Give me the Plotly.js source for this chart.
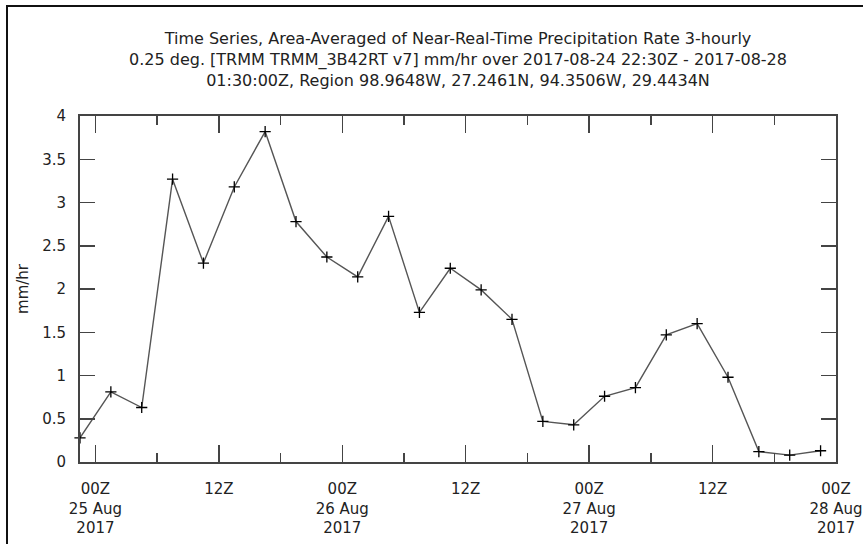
<!DOCTYPE html>
<html>
<head>
<meta charset="utf-8">
<script src="https://cdn.plot.ly/plotly-3.0.1.min.js"></script>
<style>
  html, body { margin: 0; padding: 0; background: #fff; }
  #chart { width: 863px; height: 544px; }
</style>
</head>
<body>
<div id="chart"></div>
<script>
// Time stamps (UTC) of the 3-hourly samples
const times = [
  "2017-08-24 22:30", "2017-08-25 01:30", "2017-08-25 04:30", "2017-08-25 07:30",
  "2017-08-25 10:30", "2017-08-25 13:30", "2017-08-25 16:30", "2017-08-25 19:30",
  "2017-08-25 22:30", "2017-08-26 01:30", "2017-08-26 04:30", "2017-08-26 07:30",
  "2017-08-26 10:30", "2017-08-26 13:30", "2017-08-26 16:30", "2017-08-26 19:30",
  "2017-08-26 22:30", "2017-08-27 01:30", "2017-08-27 04:30", "2017-08-27 07:30",
  "2017-08-27 10:30", "2017-08-27 13:30", "2017-08-27 16:30", "2017-08-27 19:30",
  "2017-08-27 22:30"
];
// Precipitation rate, mm/hr
const precip = [
  0.28, 0.81, 0.63, 3.27, 2.30, 3.18, 3.82, 2.78, 2.37, 2.14, 2.84, 1.73,
  2.24, 1.99, 1.65, 0.47, 0.43, 0.76, 0.86, 1.47, 1.60, 0.98, 0.12, 0.08, 0.13
];
// X tick positions and labels
const xTickVals = [
  "2017-08-25 00:00", "2017-08-25 12:00", "2017-08-26 00:00", "2017-08-26 12:00",
  "2017-08-27 00:00", "2017-08-27 12:00", "2017-08-28 00:00"
];
const xTickText = [
  "00Z<br>25 Aug<br>2017", "12Z", "00Z<br>26 Aug<br>2017", "12Z",
  "00Z<br>27 Aug<br>2017", "12Z", "00Z<br>28 Aug<br>2017"
];
const xMinorVals = [
  "2017-08-25 06:00", "2017-08-25 18:00", "2017-08-26 06:00", "2017-08-26 18:00",
  "2017-08-27 06:00", "2017-08-27 18:00"
];
const xRange = ["2017-08-24 22:30", "2017-08-28 00:00"];
const yRange = [0, 4];
const titleText = "Time Series, Area-Averaged of Near-Real-Time Precipitation Rate 3-hourly<br>" +
  "0.25 deg. [TRMM TRMM_3B42RT v7] mm/hr over 2017-08-24 22:30Z - 2017-08-28<br>" +
  "01:30:00Z, Region 98.9648W, 27.2461N, 94.3506W, 29.4434N";
const yTitle = "mm/hr";

const FONT = "DejaVu Sans, sans-serif";
const TXT = "#222";
const AX = "#444";

const trace = {
  x: times,
  y: precip,
  type: "scatter",
  mode: "lines+markers",
  line: { color: "#555", width: 1.4 },
  marker: { symbol: "cross-thin-open", size: 8, color: "#000", line: { color: "#000", width: 1.3 } },
  cliponaxis: false,
  hoverinfo: "x+y"
};

const layout = {
  width: 863,
  height: 544,
  margin: { l: 80, r: 27, t: 116, b: 82, pad: 0 },
  paper_bgcolor: "#fff",
  plot_bgcolor: "#fff",
  showlegend: false,
  font: { family: FONT, size: 15, color: TXT },
  title: {
    text: titleText,
    font: { family: FONT, size: 16, color: TXT },
    x: 0.5, xref: "paper", xanchor: "center",
    y: 1 - 44 / 544, yref: "container", yanchor: "top"
  },
  xaxis: {
    type: "date",
    range: xRange,
    tickmode: "array",
    tickvals: xTickVals,
    ticktext: xTickText,
    ticks: "inside",
    ticklen: 17,
    tickwidth: 1.5,
    tickcolor: AX,
    ticklabelstandoff: 12,
    minor: { ticks: "inside", ticklen: 9, tickwidth: 1.5, tickcolor: AX, tickvals: xMinorVals, showgrid: false },
    showline: true,
    linecolor: AX,
    linewidth: 2,
    mirror: "ticks",
    showgrid: false,
    zeroline: false,
    tickfont: { family: FONT, size: 15, color: TXT }
  },
  yaxis: {
    range: yRange,
    dtick: 0.5,
    tick0: 0,
    ticks: "inside",
    ticklen: 15,
    tickwidth: 1.5,
    tickcolor: AX,
    ticklabelstandoff: 9,
    showline: true,
    linecolor: AX,
    linewidth: 2,
    mirror: "ticks",
    showgrid: false,
    zeroline: false,
    tickfont: { family: FONT, size: 15, color: TXT },
    title: { text: yTitle, font: { family: FONT, size: 15, color: TXT }, standoff: 10 }
  },
  shapes: [{
    type: "rect",
    xref: "paper", yref: "paper",
    x0: (7 - 80) / 756, x1: (900 - 80) / 756,
    y0: (462 - 600) / 346, y1: (462 - 6) / 346,
    line: { color: "#111", width: 2 },
    fillcolor: "rgba(0,0,0,0)",
    layer: "above"
  }]
};

Plotly.newPlot("chart", [trace], layout, { displayModeBar: false, staticPlot: true });
</script>
</body>
</html>
